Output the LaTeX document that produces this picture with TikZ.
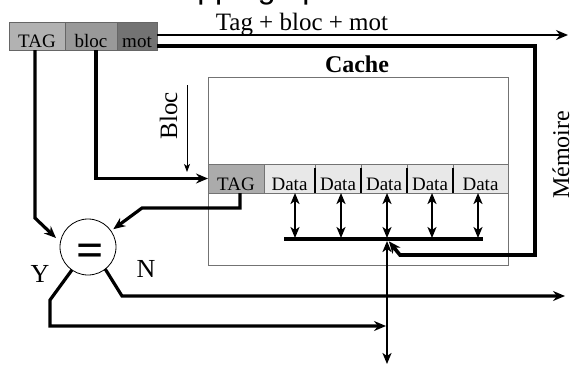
\documentclass[tikz,border=0pt]{standalone}
\usepackage{fontspec}
\setmainfont{Liberation Serif}
\newfontfamily\titlefont{Liberation Sans}
\usetikzlibrary{arrows.meta,calc}
\begin{document}
\begin{tikzpicture}[x=1pt,y=-1pt,
  every node/.style={inner sep=0pt, outer sep=0pt},
  wire/.style={line width=3.2pt, line join=miter},
  fine/.style={line width=2.6pt},
  tip/.style={-{Stealth[length=12pt,width=10pt,inset=4pt]}},
  dtip/.style={{Stealth[length=11pt,width=9pt,inset=3pt]}-{Stealth[length=11pt,width=9pt,inset=3pt]}},
  lbl/.style={font=\fontsize{24}{24}\selectfont},
  cell/.style={draw=black!60, line width=0.8pt, minimum height=28, text height=24, text depth=2, inner xsep=0pt, font=\fontsize{19}{19}\selectfont, anchor=north west},
  rowcell/.style={draw=black!55, line width=0.8pt, minimum height=29, text height=24, text depth=1, inner xsep=0pt, font=\fontsize{19}{19}\selectfont, anchor=north west},
]
\useasboundingbox (0,0) rectangle (574,365);
\clip (0,0) rectangle (574,365);

% clipped title
\node[font=\titlefont\fontsize{32}{32}\selectfont, anchor=base west] (title) at (153,-2) {Mapping opéré};

% address
\node[cell, fill=black!30, minimum width=56] (atag) at (9,22) {TAG};
\node[cell, fill=black!40, minimum width=52] (abloc) at (65,22) {bloc};
\node[cell, fill=black!55, minimum width=40] (amot) at (117,22) {mot};

% cache box
\node[draw=black!55, line width=0.9pt, minimum width=300, minimum height=188, anchor=north west] (cache) at (208,77) {};
\node[font=\bfseries\fontsize{24}{24}\selectfont, anchor=base] (ctitle) at (357,72) {Cache};

% cache row
\node[rowcell, fill=black!33, minimum width=56] (ctag) at (208,164) {TAG};
\node[rowcell, fill=black!9, minimum width=51] (d1) at (264,164) {Data};
\node[rowcell, fill=black!9, minimum width=46] (d2) at (315,164) {Data};
\node[rowcell, fill=black!9, minimum width=46] (d3) at (361,164) {Data};
\node[rowcell, fill=black!9, minimum width=46] (d4) at (407,164) {Data};
\node[rowcell, fill=black!9, minimum width=55] (d5) at (453,164) {Data};
\foreach \n in {1,...,4} {\draw[line width=2pt, shorten <=4pt] (d\n.north east) -- (d\n.south east);}

% coordinates
\coordinate (outTop) at (568,35);
\coordinate (m1) at (535,46);
\coordinate (m2) at (535,255);
\coordinate (m3) at (400,255);
\coordinate (busJ) at (387,239);
\coordinate (busL) at (284,239);
\coordinate (busR) at (483,239);
\coordinate (busBot) at (387,364);
\coordinate (bt) at (187,85);
\coordinate (bb) at (187,172);
\coordinate (t1) at (240,208);
\coordinate (t2) at (142,208);
\coordinate (a1) at (35,218);
\coordinate (a2) at (56,238);
\coordinate (y1) at (50,300);
\coordinate (y2) at (50,326);
\coordinate (yEnd) at (386,326);
\coordinate (n1) at (122,296);
\coordinate (nEnd) at (565,296);

% top arrow and label
\draw[line width=2.4pt, tip] (amot.east |- outTop) -- (outTop);
\node[font=\fontsize{25}{25}\selectfont, anchor=base] (tbm) at (302,30) {Tag + bloc + mot};

% memory loop
\draw[wire, line width=3.6pt, tip, shorten >=3pt] (amot.east |- m1) -- (m1) -- (m2) -- (m3) -- (busJ);
\node[lbl, rotate=90, anchor=base] (mem) at (569,155) {Mémoire};

% bus
\draw[line width=3.8pt] (busL) -- (busR);
\foreach \i/\x in {1/295,2/341,3/387,4/432,5/478} {
  \coordinate (b\i) at (\x,239);
  \draw[fine, dtip, shorten >=1pt] (b\i |- d\i.south) -- (b\i);
}
\draw[fine, dtip, shorten <=2pt] (busJ) -- (busBot);

% bloc arrow
\draw[line width=1pt, -{Stealth[length=8pt,width=6pt,inset=2pt]}] (bt) -- (bb);
\node[font=\fontsize{25}{25}\selectfont, rotate=90, anchor=base] (bloclab) at (177,116) {Bloc};

% address bloc line
\draw[wire, tip] ($(abloc.south)+(5,0)$) |- (ctag.west);

% comparator
\node[circle, draw, line width=0.8pt, minimum size=56] (cmp) at (88,247) {};
\node[font=\bfseries\fontsize{48}{48}\selectfont] (eq) at (90,255) {=};

\draw[wire, tip, shorten >=3pt] (ctag.south -| t1) -- (t1) -- (t2) -- (cmp.35);
\draw[wire, tip] ($(atag.south)+(-2,0)$) -- (a1) -- (a2);

\draw[wire, tip] (cmp.235) -- (y1) -- (y2) -- (yEnd);
\draw[wire, tip] (cmp.-52) -- (n1) -- (nEnd);
\node[font=\fontsize{26}{26}\selectfont, anchor=base] (ylab) at (40,282) {Y};
\node[font=\fontsize{26}{26}\selectfont, anchor=base] (nlab) at (146,277) {N};
\end{tikzpicture}
\end{document}
